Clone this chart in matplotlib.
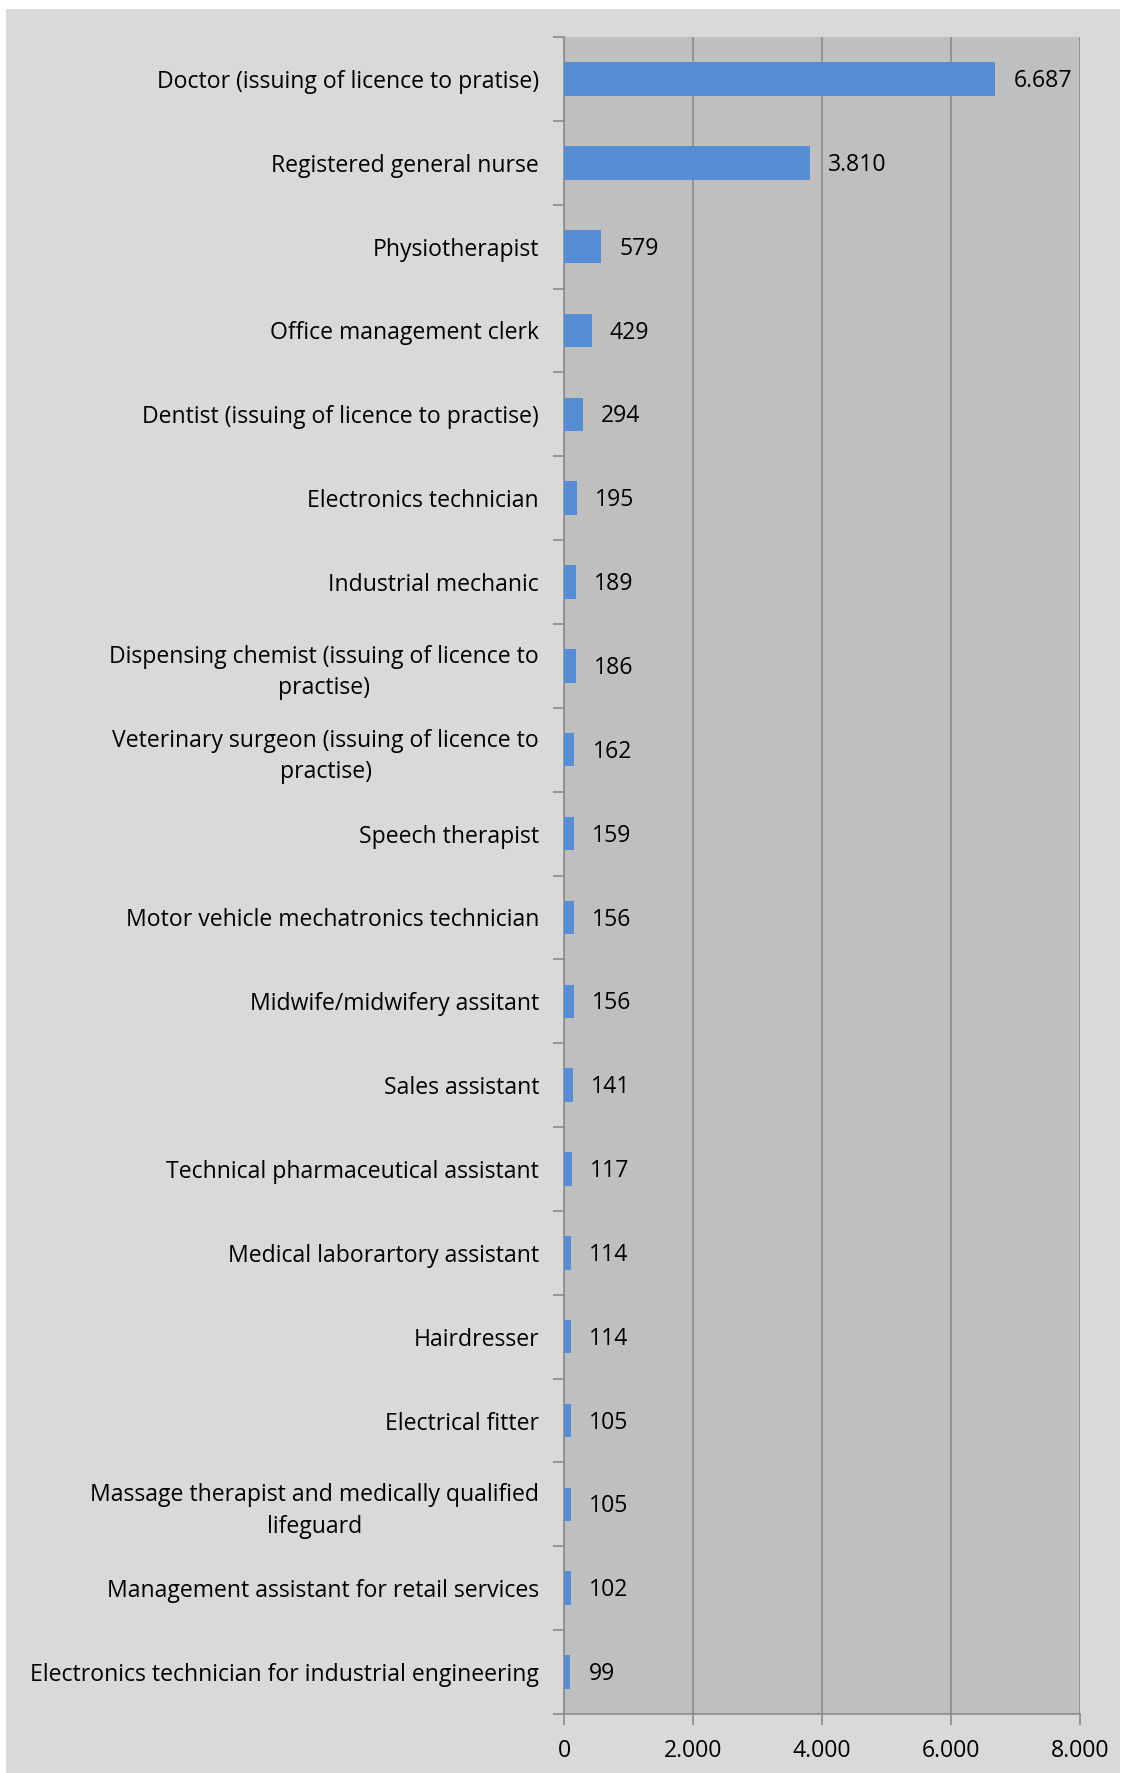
import matplotlib.pyplot as plt
import numpy as np
from matplotlib.patches import Rectangle

occupations = [
    "Doctor (issuing of licence to pratise)",
    "Registered general nurse",
    "Physiotherapist",
    "Office management clerk",
    "Dentist (issuing of licence to practise)",
    "Electronics technician",
    "Industrial mechanic",
    "Dispensing chemist (issuing of licence to\npractise)",
    "Veterinary surgeon (issuing of licence to\npractise)",
    "Speech therapist",
    "Motor vehicle mechatronics technician",
    "Midwife/midwifery assitant",
    "Sales assistant",
    "Technical pharmaceutical assistant",
    "Medical laborartory assistant",
    "Hairdresser",
    "Electrical fitter",
    "Massage therapist and medically qualified\nlifeguard",
    "Management assistant for retail services",
    "Electronics technician for industrial engineering",
]
counts = [6687, 3810, 579, 429, 294, 195, 189, 186, 162, 159,
          156, 156, 141, 117, 114, 114, 105, 105, 102, 99]
x_ticks = [0, 2000, 4000, 6000, 8000]


def de_fmt(v):
    return f"{v:,}".replace(",", ".")


plt.rcParams['font.family'] = ['Open Sans', 'DejaVu Sans']
fs = 16.6

fig = plt.figure(figsize=(11.3, 17.73), dpi=100, facecolor="white")
# grey chart area with a thin white margin on top, left and right
fig.patches.append(Rectangle((6 / 1130, 0), 1114 / 1130, 1 - 9 / 1773,
                             transform=fig.transFigure, facecolor="#d9d9d9",
                             edgecolor="none", zorder=-10))
ax = fig.add_axes([564 / 1130, 1 - 1714 / 1773, 516 / 1130, 1677 / 1773])
ax.set_facecolor("#bfbfbf")

y = np.arange(len(occupations))
ax.barh(y, counts, height=0.4, color="#558ed5", zorder=3)
for yi, v in zip(y, counts):
    ax.annotate(de_fmt(v), (v, yi), xytext=(13, -1.5), textcoords="offset points",
                va="center", ha="left", fontsize=fs, color="black")

ax.set_ylim(len(occupations) - 0.5, -0.5)
ax.set_xlim(0, 8000)
ax.set_yticks(y)
ax.set_yticklabels(occupations, fontsize=fs, multialignment="center",
                   linespacing=1.4)
ax.set_yticks(np.arange(len(occupations) + 1) - 0.5, minor=True)
ax.tick_params(axis="y", which="major", length=0, pad=18)
ax.tick_params(axis="y", which="minor", length=8, color="#8c8c8c", width=1.2)
ax.set_xticks(x_ticks)
ax.set_xticklabels([de_fmt(t) for t in x_ticks], fontsize=fs)
ax.tick_params(axis="x", length=8, color="#8c8c8c", width=1.2, pad=10)

ax.grid(axis="x", color="#8c8c8c", linewidth=1.2, zorder=1)
for s in ["top", "right"]:
    ax.spines[s].set_visible(False)
for s in ["left", "bottom"]:
    ax.spines[s].set_color("#8c8c8c")
    ax.spines[s].set_linewidth(1.2)

fig.savefig("out.png", dpi=100, facecolor=fig.get_facecolor())
